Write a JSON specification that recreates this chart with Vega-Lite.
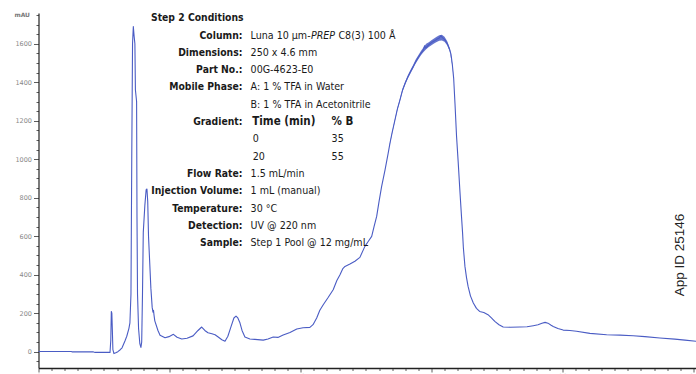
{
  "$schema": "https://vega.github.io/schema/vega-lite/v6.json",
  "autosize": {"type": "none"},
  "width": 658,
  "height": 355,
  "padding": {"left": 38.5, "top": 13, "right": 0, "bottom": 6},
  "background": "white",
  "config": {"view": {"stroke": null}},
  "datasets": {
    "trace": [
      {"t": 0, "mAU": 1}, {"t": 1.24, "mAU": 1}, {"t": 1.28, "mAU": -1}, {"t": 2.08, "mAU": -1},
      {"t": 2.16, "mAU": -4}, {"t": 2.73, "mAU": -4}, {"t": 2.76, "mAU": 60}, {"t": 2.78, "mAU": 209},
      {"t": 2.8, "mAU": 200}, {"t": 2.82, "mAU": 110}, {"t": 2.84, "mAU": 10}, {"t": 2.88, "mAU": -10},
      {"t": 2.95, "mAU": -6}, {"t": 3.03, "mAU": 0}, {"t": 3.12, "mAU": 10}, {"t": 3.19, "mAU": 20},
      {"t": 3.3, "mAU": 55}, {"t": 3.37, "mAU": 80}, {"t": 3.45, "mAU": 120}, {"t": 3.49, "mAU": 150},
      {"t": 3.53, "mAU": 300}, {"t": 3.56, "mAU": 1000}, {"t": 3.59, "mAU": 1600}, {"t": 3.62, "mAU": 1690},
      {"t": 3.65, "mAU": 1640}, {"t": 3.68, "mAU": 1600}, {"t": 3.7, "mAU": 1360}, {"t": 3.745, "mAU": 1300},
      {"t": 3.76, "mAU": 700}, {"t": 3.78, "mAU": 300}, {"t": 3.82, "mAU": 120}, {"t": 3.87, "mAU": 40},
      {"t": 3.91, "mAU": 22}, {"t": 3.94, "mAU": 50}, {"t": 3.97, "mAU": 300}, {"t": 4.0, "mAU": 620},
      {"t": 4.06, "mAU": 760}, {"t": 4.11, "mAU": 842}, {"t": 4.14, "mAU": 845}, {"t": 4.17, "mAU": 780},
      {"t": 4.2, "mAU": 600}, {"t": 4.24, "mAU": 480}, {"t": 4.29, "mAU": 330}, {"t": 4.34, "mAU": 230},
      {"t": 4.37, "mAU": 205}, {"t": 4.39, "mAU": 215}, {"t": 4.41, "mAU": 190}, {"t": 4.44, "mAU": 160},
      {"t": 4.56, "mAU": 110}, {"t": 4.64, "mAU": 85}, {"t": 4.83, "mAU": 72}, {"t": 4.98, "mAU": 78},
      {"t": 5.15, "mAU": 90}, {"t": 5.29, "mAU": 75}, {"t": 5.47, "mAU": 66}, {"t": 5.67, "mAU": 70},
      {"t": 5.9, "mAU": 82}, {"t": 6.09, "mAU": 110}, {"t": 6.23, "mAU": 128}, {"t": 6.35, "mAU": 110},
      {"t": 6.47, "mAU": 98}, {"t": 6.62, "mAU": 93}, {"t": 6.74, "mAU": 88}, {"t": 6.86, "mAU": 76},
      {"t": 7.0, "mAU": 62}, {"t": 7.12, "mAU": 54}, {"t": 7.23, "mAU": 80}, {"t": 7.35, "mAU": 130},
      {"t": 7.46, "mAU": 175}, {"t": 7.54, "mAU": 185}, {"t": 7.61, "mAU": 175}, {"t": 7.69, "mAU": 150},
      {"t": 7.77, "mAU": 110}, {"t": 7.88, "mAU": 76}, {"t": 8.07, "mAU": 66}, {"t": 8.26, "mAU": 64},
      {"t": 8.58, "mAU": 60}, {"t": 8.76, "mAU": 66}, {"t": 8.96, "mAU": 76}, {"t": 9.14, "mAU": 74},
      {"t": 9.34, "mAU": 86}, {"t": 9.6, "mAU": 100}, {"t": 9.86, "mAU": 118}, {"t": 10.1, "mAU": 124},
      {"t": 10.36, "mAU": 126}, {"t": 10.48, "mAU": 140}, {"t": 10.62, "mAU": 175}, {"t": 10.74, "mAU": 215},
      {"t": 10.87, "mAU": 244}, {"t": 11.05, "mAU": 280}, {"t": 11.25, "mAU": 322}, {"t": 11.39, "mAU": 370},
      {"t": 11.51, "mAU": 400}, {"t": 11.62, "mAU": 432}, {"t": 11.7, "mAU": 443}, {"t": 11.89, "mAU": 455},
      {"t": 12.08, "mAU": 470}, {"t": 12.27, "mAU": 490}, {"t": 12.46, "mAU": 547}, {"t": 12.6, "mAU": 575},
      {"t": 12.72, "mAU": 599}, {"t": 12.81, "mAU": 650}, {"t": 12.91, "mAU": 703}, {"t": 13.0, "mAU": 780},
      {"t": 13.1, "mAU": 859}, {"t": 13.23, "mAU": 945}, {"t": 13.35, "mAU": 1032}, {"t": 13.42, "mAU": 1085},
      {"t": 13.5, "mAU": 1138}, {"t": 13.6, "mAU": 1199}, {"t": 13.7, "mAU": 1260}, {"t": 13.8, "mAU": 1309},
      {"t": 13.9, "mAU": 1360}, {"t": 14.0, "mAU": 1396}, {"t": 14.1, "mAU": 1427}, {"t": 14.2, "mAU": 1455},
      {"t": 14.3, "mAU": 1480}, {"t": 14.4, "mAU": 1507}, {"t": 14.5, "mAU": 1530}, {"t": 14.6, "mAU": 1551},
      {"t": 14.7, "mAU": 1569}, {"t": 14.74, "mAU": 1590}, {"t": 14.78, "mAU": 1578}, {"t": 14.9, "mAU": 1595},
      {"t": 15.0, "mAU": 1606}, {"t": 15.1, "mAU": 1614}, {"t": 15.2, "mAU": 1623}, {"t": 15.3, "mAU": 1630},
      {"t": 15.36, "mAU": 1642}, {"t": 15.42, "mAU": 1632}, {"t": 15.5, "mAU": 1623}, {"t": 15.6, "mAU": 1603},
      {"t": 15.7, "mAU": 1569}, {"t": 15.75, "mAU": 1544}, {"t": 15.8, "mAU": 1490}, {"t": 15.85, "mAU": 1420},
      {"t": 15.9, "mAU": 1290}, {"t": 15.96, "mAU": 1118}, {"t": 16.02, "mAU": 990}, {"t": 16.09, "mAU": 830},
      {"t": 16.15, "mAU": 700}, {"t": 16.19, "mAU": 616}, {"t": 16.22, "mAU": 540}, {"t": 16.28, "mAU": 443},
      {"t": 16.34, "mAU": 385}, {"t": 16.4, "mAU": 339}, {"t": 16.49, "mAU": 290}, {"t": 16.6, "mAU": 253},
      {"t": 16.72, "mAU": 225}, {"t": 16.84, "mAU": 209}, {"t": 17.0, "mAU": 203}, {"t": 17.16, "mAU": 192},
      {"t": 17.29, "mAU": 175}, {"t": 17.42, "mAU": 157}, {"t": 17.58, "mAU": 140}, {"t": 17.74, "mAU": 128},
      {"t": 18.0, "mAU": 127}, {"t": 18.38, "mAU": 128}, {"t": 18.65, "mAU": 129}, {"t": 18.89, "mAU": 135},
      {"t": 19.07, "mAU": 140}, {"t": 19.22, "mAU": 148}, {"t": 19.34, "mAU": 152}, {"t": 19.45, "mAU": 148},
      {"t": 19.57, "mAU": 137}, {"t": 19.65, "mAU": 131}, {"t": 19.83, "mAU": 120}, {"t": 20.03, "mAU": 112},
      {"t": 20.29, "mAU": 110}, {"t": 20.54, "mAU": 106}, {"t": 21.05, "mAU": 95}, {"t": 21.69, "mAU": 88},
      {"t": 22.2, "mAU": 86}, {"t": 22.7, "mAU": 83}, {"t": 23.15, "mAU": 78}, {"t": 23.72, "mAU": 71},
      {"t": 24.29, "mAU": 65}, {"t": 24.68, "mAU": 60}, {"t": 25.12, "mAU": 54}
    ],
    "noise": [
      {"t": 13.4, "lo": 1068, "hi": 1074}, {"t": 13.5, "lo": 1134, "hi": 1142},
      {"t": 13.6, "lo": 1195, "hi": 1204}, {"t": 13.7, "lo": 1255, "hi": 1266},
      {"t": 13.8, "lo": 1303, "hi": 1316}, {"t": 13.9, "lo": 1353, "hi": 1368},
      {"t": 14.0, "lo": 1389, "hi": 1404}, {"t": 14.1, "lo": 1419, "hi": 1436},
      {"t": 14.2, "lo": 1446, "hi": 1464}, {"t": 14.3, "lo": 1471, "hi": 1490},
      {"t": 14.4, "lo": 1497, "hi": 1518}, {"t": 14.5, "lo": 1520, "hi": 1541},
      {"t": 14.6, "lo": 1540, "hi": 1562}, {"t": 14.7, "lo": 1557, "hi": 1582},
      {"t": 14.8, "lo": 1571, "hi": 1600}, {"t": 14.9, "lo": 1583, "hi": 1608},
      {"t": 15.0, "lo": 1593, "hi": 1619}, {"t": 15.1, "lo": 1601, "hi": 1628},
      {"t": 15.2, "lo": 1609, "hi": 1637}, {"t": 15.3, "lo": 1616, "hi": 1645},
      {"t": 15.4, "lo": 1617, "hi": 1647}, {"t": 15.5, "lo": 1610, "hi": 1637},
      {"t": 15.6, "lo": 1592, "hi": 1615}, {"t": 15.7, "lo": 1560, "hi": 1578},
      {"t": 15.8, "lo": 1484, "hi": 1496}, {"t": 15.85, "lo": 1416, "hi": 1424}
    ],
    "conditions": [
      {"line": 0, "col": "head", "text": "Step 2 Conditions"},
      {"line": 1, "col": "key", "text": "Column:"},
      {"line": 1, "col": "val", "text": "Luna 10 µm-"},
      {"line": 1, "col": "ital", "text": "PREP"},
      {"line": 1, "col": "tail", "text": "C8(3) 100 Å"},
      {"line": 2, "col": "key", "text": "Dimensions:"},
      {"line": 2, "col": "val", "text": "250 x 4.6 mm"},
      {"line": 3, "col": "key", "text": "Part No.:"},
      {"line": 3, "col": "val", "text": "00G-4623-E0"},
      {"line": 4, "col": "key", "text": "Mobile Phase:"},
      {"line": 4, "col": "val", "text": "A: 1 % TFA in Water"},
      {"line": 5, "col": "val", "text": "B: 1 % TFA in Acetonitrile"},
      {"line": 6, "col": "key", "text": "Gradient:"},
      {"line": 6, "col": "thead", "text": "Time (min)"},
      {"line": 6, "col": "phead", "text": "% B"},
      {"line": 7, "col": "tval", "text": "0"},
      {"line": 7, "col": "pval", "text": "35"},
      {"line": 8, "col": "tval", "text": "20"},
      {"line": 8, "col": "pval", "text": "55"},
      {"line": 9, "col": "key", "text": "Flow Rate:"},
      {"line": 9, "col": "val", "text": "1.5 mL/min"},
      {"line": 10, "col": "key", "text": "Injection Volume:"},
      {"line": 10, "col": "val", "text": "1 mL (manual)"},
      {"line": 11, "col": "key", "text": "Temperature:"},
      {"line": 11, "col": "val", "text": "30 °C"},
      {"line": 12, "col": "key", "text": "Detection:"},
      {"line": 12, "col": "val", "text": "UV @ 220 nm"},
      {"line": 13, "col": "key", "text": "Sample:"},
      {"line": 13, "col": "val", "text": "Step 1 Pool @ 12 mg/mL"}
    ]
  },
  "resolve": {"scale": {"y": "independent"}},
  "layer": [
    {
      "resolve": {"axis": {"x": "independent", "y": "independent"}},
      "layer": [
        {
          "data": {"name": "noise"},
          "mark": {"type": "area", "color": "#4a5cc4", "opacity": 0.85},
          "encoding": {
            "x": {
              "field": "t", "type": "quantitative",
              "axis": {
                "orient": "bottom", "title": null, "labels": false, "domain": false, "grid": false,
                "values": [0.5,1,1.5,2,2.5,3,3.5,4,4.5,5.5,6,6.5,7,7.5,8,8.5,9,9.5,10.5,11,11.5,12,12.5,13,13.5,14,14.5,15.5,16,16.5,17,17.5,18,18.5,19,19.5,20.5,21,21.5,22,22.5,23,23.5,24,24.5],
                "tickSize": 2.5, "tickColor": "#333", "tickWidth": 0.8
              }
            },
            "y": {
              "field": "lo", "type": "quantitative",
              "axis": {
                "orient": "left", "title": null, "labels": false, "domain": false, "grid": false,
                "values": [-50,50,100,150,250,300,350,450,500,550,650,700,750,850,900,950,1050,1100,1150,1250,1300,1350,1450,1500,1550,1650,1700,1750],
                "tickSize": 2.5, "tickColor": "#333", "tickWidth": 0.8
              }
            },
            "y2": {"field": "hi"}
          }
        },
        {
          "data": {"name": "trace"},
          "mark": {"type": "line", "color": "#4a5cc4", "strokeWidth": 1.1, "strokeJoin": "round"},
          "encoding": {
            "x": {
              "field": "t", "type": "quantitative",
              "scale": {"domain": [0, 25.12], "nice": false, "zero": false},
              "axis": {
                "orient": "bottom", "title": null, "values": [0, 5, 10, 15, 20, 25],
                "labelOverlap": false, "labelFlush": false, "tickSize": 4,
                "domainColor": "#222", "domainWidth": 1.3, "tickColor": "#333", "tickWidth": 0.8,
                "labelFont": "DejaVu Sans", "labelFontSize": 7, "labelColor": "#888",
                "labelPadding": 0, "labelBaseline": "top", "grid": false
              }
            },
            "y": {
              "field": "mAU", "type": "quantitative",
              "scale": {"domain": [-85, 1760], "nice": false, "zero": false},
              "axis": {
                "orient": "left",
                "title": "mAU", "titleAngle": 0, "titleAlign": "right", "titleBaseline": "middle",
                "titleX": -9, "titleY": 1.5, "titleFont": "DejaVu Sans", "titleFontSize": 6,
                "titleFontWeight": "bold", "titleColor": "#777",
                "values": [0, 200, 400, 600, 800, 1000, 1200, 1400, 1600],
                "labelOverlap": false, "labelFlush": false, "format": "d", "tickSize": 5,
                "domainColor": "#222", "domainWidth": 1.2, "tickColor": "#333", "tickWidth": 0.8,
                "labelFont": "DejaVu Sans", "labelFontSize": 6.5, "labelColor": "#888",
                "labelPadding": 2, "grid": false
              }
            }
          }
        },
        {
          "data": {"values": [{"label": "App ID 25146"}]},
          "mark": {"type": "text", "angle": 270, "align": "center", "baseline": "middle",
                   "font": "Liberation Sans", "fontSize": 13.5, "color": "#222"},
          "encoding": {
            "x": {"datum": 24.48, "type": "quantitative", "axis": null},
            "y": {"datum": 502, "type": "quantitative", "axis": null},
            "text": {"field": "label"}
          }
        }
      ]
    },
    {
      "data": {"name": "conditions"},
      "encoding": {
        "y": {"field": "line", "type": "quantitative",
              "scale": {"domain": [-0.306, 20.214], "reverse": true, "nice": false, "zero": false},
              "axis": null},
        "text": {"field": "text"}
      },
      "layer": [
        {
          "transform": [{"filter": "datum.col === 'head'"}],
          "mark": {"type": "text", "align": "left", "baseline": "middle", "font": "DejaVu Sans Condensed", "fontSize": 10.3, "fontWeight": "bold", "color": "#1a1a1a"},
          "encoding": {"x": {"datum": 4.294, "type": "quantitative", "axis": null}}
        },
        {
          "transform": [{"filter": "datum.col === 'key'"}],
          "mark": {"type": "text", "align": "right", "baseline": "middle", "font": "DejaVu Sans Condensed", "fontSize": 10.3, "fontWeight": "bold", "color": "#1a1a1a"},
          "encoding": {"x": {"datum": 7.786, "type": "quantitative", "axis": null}}
        },
        {
          "transform": [{"filter": "datum.col === 'val'"}],
          "mark": {"type": "text", "align": "left", "baseline": "middle", "font": "DejaVu Sans Condensed", "fontSize": 10.6, "color": "#1a1a1a"},
          "encoding": {"x": {"datum": 8.096, "type": "quantitative", "axis": null}}
        },
        {
          "transform": [{"filter": "datum.col === 'ital'"}],
          "mark": {"type": "text", "align": "left", "baseline": "middle", "font": "DejaVu Sans Condensed", "fontSize": 10.6, "fontStyle": "italic", "color": "#1a1a1a"},
          "encoding": {"x": {"datum": 10.4, "type": "quantitative", "axis": null}}
        },
        {
          "transform": [{"filter": "datum.col === 'tail'"}],
          "mark": {"type": "text", "align": "left", "baseline": "middle", "font": "DejaVu Sans Condensed", "fontSize": 10.6, "color": "#1a1a1a"},
          "encoding": {"x": {"datum": 11.45, "type": "quantitative", "axis": null}}
        },
        {
          "transform": [{"filter": "datum.col === 'thead'"}],
          "mark": {"type": "text", "align": "left", "baseline": "middle", "font": "DejaVu Sans Condensed", "fontSize": 11.5, "fontWeight": "bold", "color": "#1a1a1a"},
          "encoding": {"x": {"datum": 8.16, "type": "quantitative", "axis": null}}
        },
        {
          "transform": [{"filter": "datum.col === 'phead'"}],
          "mark": {"type": "text", "align": "left", "baseline": "middle", "font": "DejaVu Sans Condensed", "fontSize": 11.5, "fontWeight": "bold", "color": "#1a1a1a"},
          "encoding": {"x": {"datum": 11.19, "type": "quantitative", "axis": null}}
        },
        {
          "transform": [{"filter": "datum.col === 'tval'"}],
          "mark": {"type": "text", "align": "left", "baseline": "middle", "font": "DejaVu Sans Condensed", "fontSize": 10.6, "color": "#1a1a1a"},
          "encoding": {"x": {"datum": 8.18, "type": "quantitative", "axis": null}}
        },
        {
          "transform": [{"filter": "datum.col === 'pval'"}],
          "mark": {"type": "text", "align": "left", "baseline": "middle", "font": "DejaVu Sans Condensed", "fontSize": 10.6, "color": "#1a1a1a"},
          "encoding": {"x": {"datum": 11.19, "type": "quantitative", "axis": null}}
        }
      ]
    }
  ]
}
